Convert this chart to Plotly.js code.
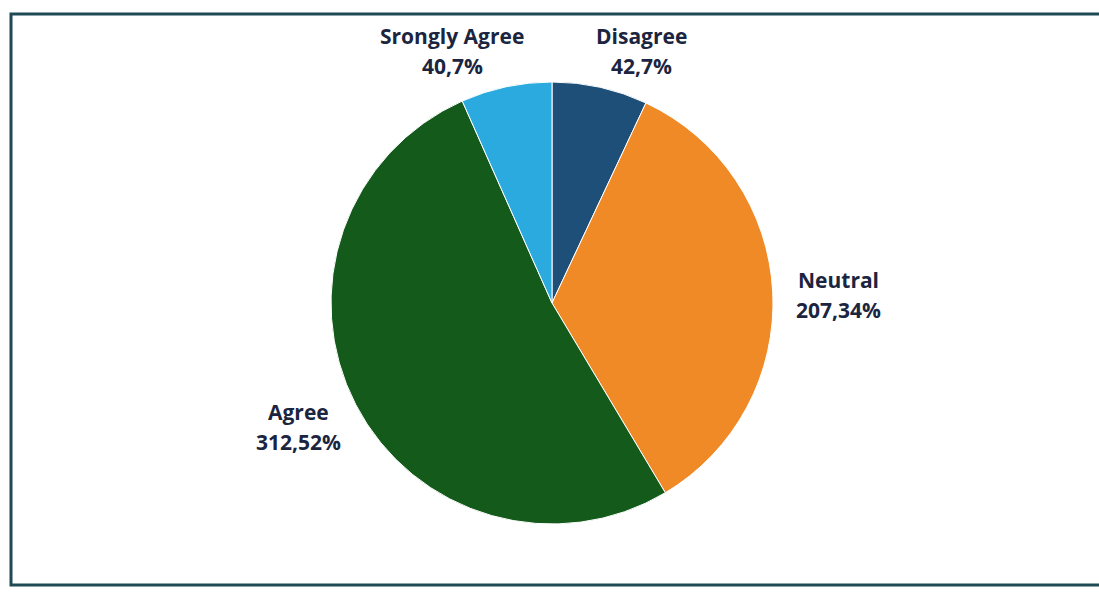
<!DOCTYPE html>
<html>
<head>
<meta charset="utf-8">
<script src="https://cdn.plot.ly/plotly-3.0.1.min.js"></script>
<style>
  html, body { margin: 0; padding: 0; background: #ffffff; }
  #chart { width: 1099px; height: 595px; }
</style>
</head>
<body>
<div id="chart"></div>
<script>
// Data
const categories = ["Disagree", "Neutral", "Agree", "Srongly Agree"];
const counts = [42, 207, 312, 40];
const percents = [7, 34, 52, 7];
const colors = ["#1e4f79", "#f08a26", "#145a1b", "#2aaade"];

// Label placement (pixels in the 1099x595 page)
const W = 1099, H = 595;
const labelPos = [
  { x: 641, y1: 36, y2: 66 },   // Disagree
  { x: 838, y1: 280, y2: 310 }, // Neutral
  { x: 298, y1: 412, y2: 442 }, // Agree
  { x: 452, y1: 36, y2: 66 }    // Srongly Agree
];

const cx = 552, cy = 303, r = 221;

const trace = {
  type: "pie",
  labels: categories,
  values: counts,
  sort: false,
  direction: "clockwise",
  rotation: 0,
  textinfo: "none",
  hoverinfo: "label+value+percent",
  marker: { colors: colors, line: { color: "#ffffff", width: 1 } },
  domain: {
    x: [(cx - r) / W, (cx + r) / W],
    y: [(H - cy - r) / H, (H - cy + r) / H]
  },
  showlegend: false
};

const font = { family: "Open Sans, sans-serif", size: 21, color: "#1b2540", weight: "bold" };
const annotations = [];
categories.forEach((c, i) => {
  const p = labelPos[i];
  annotations.push({
    xref: "paper", yref: "paper", x: p.x / W, y: 1 - p.y1 / H,
    xanchor: "center", yanchor: "middle", showarrow: false,
    text: "<b>" + c + "</b>", font: font
  });
  annotations.push({
    xref: "paper", yref: "paper", x: p.x / W, y: 1 - p.y2 / H,
    xanchor: "center", yanchor: "middle", showarrow: false,
    text: "<b>" + counts[i] + "," + percents[i] + "%</b>", font: font
  });
});

const layout = {
  width: W, height: H,
  margin: { l: 0, r: 0, t: 0, b: 0 },
  paper_bgcolor: "#ffffff",
  plot_bgcolor: "#ffffff",
  annotations: annotations,
  shapes: [{
    type: "rect", xref: "paper", yref: "paper",
    x0: 11 / W, x1: 1.02, y0: 1 - 585 / H, y1: 1 - 14 / H,
    line: { color: "#1e4a55", width: 3 }, fillcolor: "rgba(0,0,0,0)"
  }]
};

Plotly.newPlot("chart", [trace], layout, { displayModeBar: false, staticPlot: true });
</script>
</body>
</html>
